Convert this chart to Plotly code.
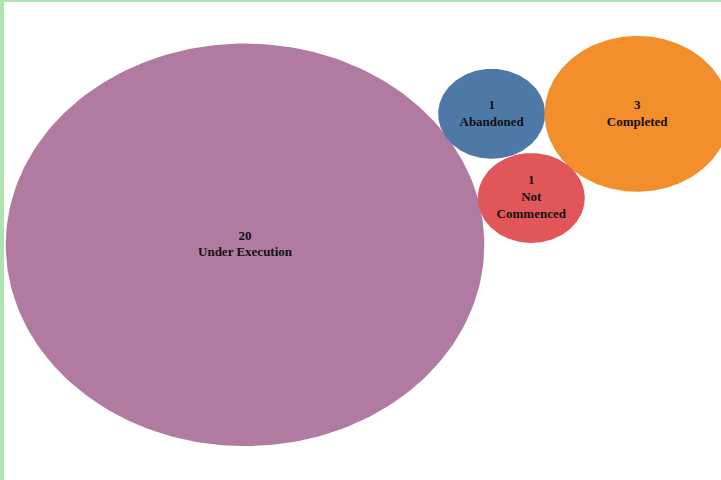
import numpy as np
import plotly.graph_objects as go

# Data
categories = ["Under Execution", "Abandoned", "Completed", "Not Commenced"]
counts = [20, 1, 3, 1]
colors = ["#b07aa1", "#4e79a7", "#f28e2b", "#e15759"]
# packed-bubble layout centres (in data units; radius = sqrt(count))
center_x = [4.58, 9.19, 11.91, 9.93]
center_y = [5.44, 2.53, 2.53, 4.40]

X_RANGE = [0, 721 / 53.5]
Y_RANGE = [480 / 45, 0]

fig = go.Figure()
theta = np.linspace(0, 2 * np.pi, 241)
for cat, n, col, cx, cy in zip(categories, counts, colors, center_x, center_y):
    r = np.sqrt(n)
    fig.add_trace(go.Scatter(
        x=cx + r * np.cos(theta), y=cy + r * np.sin(theta),
        mode="lines", fill="toself", fillcolor=col,
        line=dict(width=0, color=col), hoverinfo="skip", showlegend=False,
    ))

labels = [f"<b>{n}<br>{c.replace('Not Commenced', 'Not<br>Commenced')}</b>"
          for c, n in zip(categories, counts)]
fig.add_trace(go.Scatter(
    x=center_x, y=center_y, mode="text", text=labels,
    textfont=dict(family="Liberation Serif", size=13, color="#111111"),
    textposition="middle center", hoverinfo="skip", showlegend=False,
))

fig.update_layout(
    width=721, height=480,
    margin=dict(l=0, r=0, t=0, b=0),
    paper_bgcolor="white", plot_bgcolor="white",
    xaxis=dict(range=X_RANGE, visible=False, fixedrange=True),
    yaxis=dict(range=Y_RANGE, visible=False, fixedrange=True),
    shapes=[
        dict(type="rect", xref="paper", yref="paper", x0=0, x1=4 / 721, y0=0, y1=1,
             fillcolor="#afe3b2", line=dict(width=0), layer="above"),
        dict(type="rect", xref="paper", yref="paper", x0=0, x1=1, y0=1 - 2 / 480, y1=1,
             fillcolor="#afe3b2", line=dict(width=0), layer="above"),
    ],
)

fig.write_html("out.html", config={"displayModeBar": False},
               post_script="document.body.style.margin='0';document.body.style.overflow='hidden';")
